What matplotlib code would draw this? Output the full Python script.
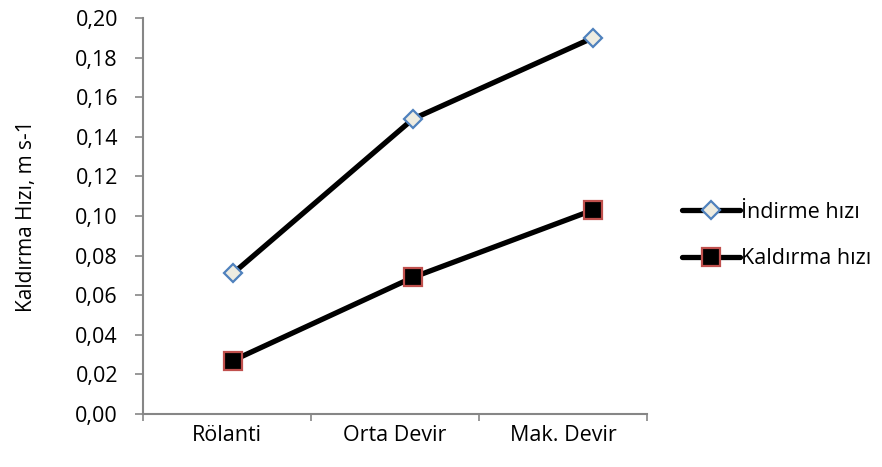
import numpy as np
import matplotlib.pyplot as plt
from matplotlib.ticker import FuncFormatter

plt.rcParams['font.family'] = ['Open Sans', 'DejaVu Sans']

# Data
categories = ['Rölanti', 'Orta Devir', 'Mak. Devir']
indirme = [0.071, 0.149, 0.190]
kaldirma = [0.027, 0.069, 0.103]
y_label = 'Kaldırma Hızı, m s-1'

grey = '#868686'
fs = 15.5

fig = plt.figure(figsize=(8.82, 4.67), dpi=100)
ax = fig.add_axes([0.1621, 0.1135, 0.5714, 0.848])

# category axis: boundaries as major ticks, names centred between them
n = len(categories)
ax.set_xlim(-0.5, n - 0.5)
ax.set_xticks(np.arange(n + 1) - 0.5)
ax.set_xticklabels([''] * (n + 1))
ax.set_xticks(np.arange(n), minor=True)
ax.set_xticklabels(categories, minor=True)
ax.tick_params(axis='x', which='minor', length=0, pad=8, labelsize=fs)
ax.tick_params(axis='x', which='major', length=5, width=1.2, color=grey, direction='out')

ax.set_ylim(0, 0.20)
ax.set_yticks(np.arange(0, 0.201, 0.02))
ax.yaxis.set_major_formatter(FuncFormatter(lambda v, p: f'{v:.2f}'.replace('.', ',')))
ax.tick_params(axis='y', length=6, width=1.2, color=grey, direction='out', pad=12, labelsize=fs)
ax.set_ylabel(y_label, fontsize=fs - 0.5)
ax.yaxis.set_label_coords(-0.21, 0.5)

for side in ('top', 'right'):
    ax.spines[side].set_visible(False)
for side in ('left', 'bottom'):
    ax.spines[side].set_color(grey)
    ax.spines[side].set_linewidth(1.5)

# series drawn on a second x scale
ax2 = ax.twiny()
ax2.set_xlim(-0.5, 2.3)
ax2.set_ylim(0, 0.20)
ax2.axis('off')
x = np.arange(n)
l1, = ax2.plot(x, indirme, color='black', lw=3.8, marker='D', ms=9.5,
               mfc='#EEECE1', mec='#4F81BD', mew=1.6, label='İndirme hızı',
               solid_capstyle='round')
l2, = ax2.plot(x, kaldirma, color='black', lw=3.8, marker='s', ms=13,
               mfc='black', mec='#C0504D', mew=1.6, label='Kaldırma hızı',
               solid_capstyle='round')

fig.legend(handles=[l1, l2], loc='center left', bbox_to_anchor=(0.7635, 0.4957),
           frameon=False, fontsize=fs, handlelength=2.7, handletextpad=0.05,
           labelspacing=1.2, borderaxespad=0)

fig.savefig('out.png', dpi=100)
